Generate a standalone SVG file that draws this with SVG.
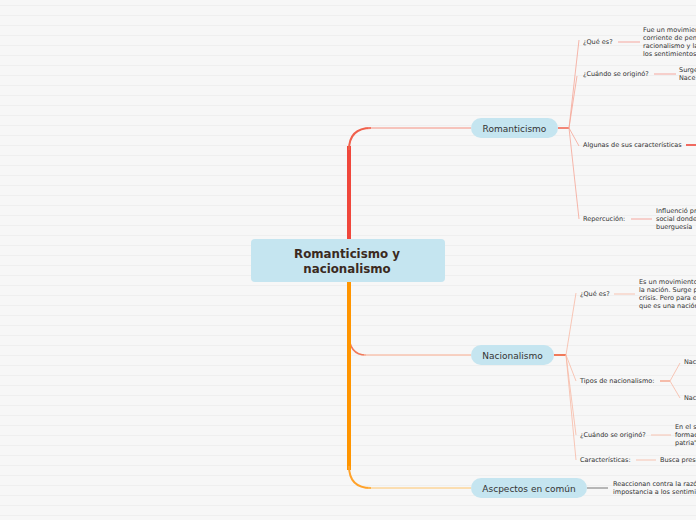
<svg xmlns="http://www.w3.org/2000/svg" width="696" height="520" viewBox="0 0 696 520">
<defs>
<pattern id="stripes" x="0" y="0" width="696" height="10" patternUnits="userSpaceOnUse">
<rect width="696" height="10" fill="#f7f7f7"/>
<rect y="5" width="696" height="1" fill="#efefef"/>
</pattern>
</defs>
<style>
.lbl{font-family:"DejaVu Sans",sans-serif;font-size:6.5px;fill:#333}
.txt{font-family:"DejaVu Sans",sans-serif;font-size:6.5px;fill:#333}
.node{font-family:"DejaVu Sans",sans-serif;font-size:9px;fill:#333;text-anchor:middle}
.main{font-family:"DejaVu Sans",sans-serif;font-size:11.8px;font-weight:bold;fill:#3b2a1e;text-anchor:middle}
.pill{fill:#c5e5f0}
.fan{fill:none;stroke:#f5a595;stroke-width:0.8}
.fan2{fill:none;stroke:#f7b9a5;stroke-width:0.8}
.sub{fill:none;stroke:#f5a8a0;stroke-width:1.2}
.sub2{fill:none;stroke:#f8c4b2;stroke-width:1.2}
</style>
<rect width="696" height="520" fill="url(#stripes)"/>

<g id="connectors">
<path d="M349,240 V146" fill="none" stroke="#f0473c" stroke-width="4"/>
<path d="M349,150 Q349,128 371,128" fill="none" stroke="#f0604c" stroke-width="2"/>
<path d="M368,128 H471" fill="none" stroke="#f59080" stroke-width="1"/>
<path d="M349,334 Q349,355 366,355" fill="none" stroke="#f07a5a" stroke-width="1.6"/>
<path d="M364,355 H471" fill="none" stroke="#f8c4b0" stroke-width="1.5"/>
<path d="M349,282 V470" fill="none" stroke="#ff9500" stroke-width="4"/>
<path d="M349,466 Q349,488 371,488" fill="none" stroke="#ffa22a" stroke-width="2"/>
<path d="M368,488 H471" fill="none" stroke="#ffc46a" stroke-width="1"/>

<path d="M558,128 H569" fill="none" stroke="#f0604c" stroke-width="1.5"/>
<path class="fan" d="M569,128 L579,40 M569,128 L577,76 M569,128 L579,146 M569,128 L579,219"/>
<path class="sub" d="M618,42 H640 M654,74 H676 M631,219 H652"/>
<path d="M686,145 H696" fill="none" stroke="#f06a60" stroke-width="2"/>

<path d="M554,355 H566" fill="none" stroke="#f07a5a" stroke-width="2"/>
<path class="fan2" d="M566,355 L576,293 M566,355 L576,381 M566,355 L576,435 M566,355 L576,460"/>
<path class="sub2" d="M614,294 H635 M651,435 H671 M636,460 H656"/>
<path d="M660,381 H670" fill="none" stroke="#f5a890" stroke-width="1.5"/>
<path class="fan2" d="M670,381 L680,363 M670,381 L680,398"/>

<path d="M587,488 H608" fill="none" stroke="#555" stroke-width="0.8"/>
</g>

<g id="central">
<rect x="251" y="239" width="194" height="43" rx="4" fill="#c5e5f0"/>
<text class="main" x="347" y="258">Romanticismo y</text>
<text class="main" x="347" y="273">nacionalismo</text>
</g>

<g id="romanticismo">
<rect class="pill" x="471" y="118" width="87" height="20" rx="10"/>
<text class="node" x="514.5" y="131.5">Romanticismo</text>
</g>
<g id="nacionalismo">
<rect class="pill" x="471" y="345" width="83" height="20" rx="10"/>
<text class="node" x="512.5" y="358.5">Nacionalismo</text>
</g>
<g id="aspectos">
<rect class="pill" x="471" y="478" width="116" height="20" rx="10"/>
<text class="node" x="529" y="491.5">Ascpectos en común</text>
</g>

<g id="rom-que">
<text class="lbl" x="583" y="44">¿Qué es?</text>
<text class="txt" x="643" y="32">Fue un movimien</text>
<text class="txt" x="643" y="40">corriente de pen</text>
<text class="txt" x="643" y="48">racionalismo y la</text>
<text class="txt" x="643" y="56">los sentimientos</text>
</g>
<g id="rom-cuando">
<text class="lbl" x="583" y="76">¿Cuándo se originó?</text>
<text class="txt" x="679" y="72">Surge</text>
<text class="txt" x="679" y="80">Nace</text>
</g>
<g id="rom-caract">
<text class="lbl" x="583" y="147">Algunas de sus características</text>
</g>
<g id="rom-reper">
<text class="lbl" x="583" y="221">Repercución:</text>
<text class="txt" x="656" y="213">Influenció pr</text>
<text class="txt" x="656" y="221">social donde</text>
<text class="txt" x="656" y="229">buerguesía</text>
</g>

<g id="nac-que">
<text class="lbl" x="580" y="296">¿Qué es?</text>
<text class="txt" x="639" y="284">Es un movimiento</text>
<text class="txt" x="639" y="292">la nación. Surge p</text>
<text class="txt" x="639" y="300">crisis. Pero para e</text>
<text class="txt" x="639" y="308">que es una nación</text>
</g>
<g id="nac-tipos">
<text class="lbl" x="580" y="383">Tipos de nacionalismo:</text>
<text class="txt" x="684" y="364">Nac</text>
<text class="txt" x="684" y="400">Nac</text>
</g>
<g id="nac-cuando">
<text class="lbl" x="580" y="437">¿Cuándo se originó?</text>
<text class="txt" x="675" y="429">En el s</text>
<text class="txt" x="675" y="437">formac</text>
<text class="txt" x="675" y="445">patria"</text>
</g>
<g id="nac-caract">
<text class="lbl" x="580" y="462">Características:</text>
<text class="txt" x="660" y="462">Busca prese</text>
</g>
<g id="asp-text">
<text class="txt" x="613" y="486">Reaccionan contra la razó</text>
<text class="txt" x="613" y="494">impostancia a los sentimi</text>
</g>
</svg>
